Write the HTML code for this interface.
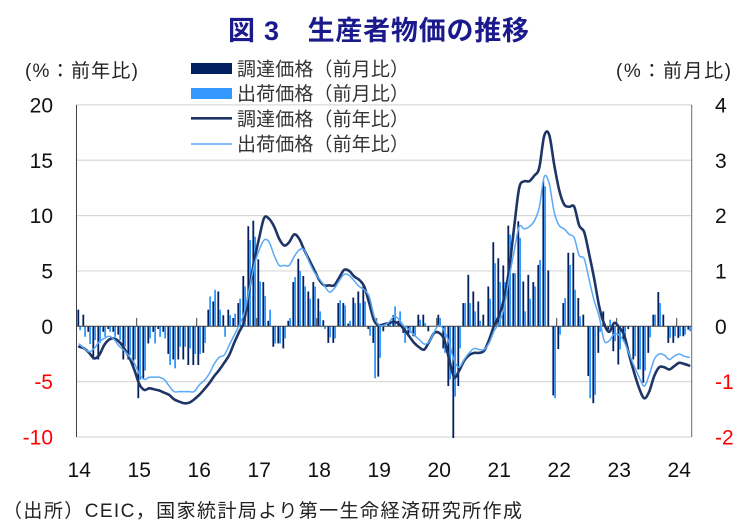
<!DOCTYPE html>
<html><head><meta charset="utf-8"><style>
html,body{margin:0;padding:0;background:#fff;}
svg{display:block;font-family:"Liberation Sans","Noto Sans CJK JP",sans-serif;}
</style></head><body>
<svg id="c" xmlns="http://www.w3.org/2000/svg" width="756" height="528" viewBox="0 0 756 528">
<rect width="756" height="528" fill="#fff"/>
<g stroke="#d9d9d9" stroke-width="1.2">
<line x1="76.5" y1="104.9" x2="691.7" y2="104.9"/>
<line x1="76.5" y1="160.25" x2="691.7" y2="160.25"/>
<line x1="76.5" y1="215.6" x2="691.7" y2="215.6"/>
<line x1="76.5" y1="270.95" x2="691.7" y2="270.95"/>
<line x1="76.5" y1="381.65" x2="691.7" y2="381.65"/>
<line x1="76.5" y1="437" x2="691.7" y2="437"/>
</g>
<g id="bars"></g>
<g id="axes" stroke="#404040" stroke-width="1">
<line x1="76.5" y1="326.3" x2="691.7" y2="326.3"/>
<line x1="76.5" y1="104.9" x2="76.5" y2="437"/>
<line x1="691.7" y1="104.9" x2="691.7" y2="437" stroke="#6a6a6a"/>
</g>
<g id="ticks" stroke="#404040" stroke-width="1"></g>
<path id="pd" fill="none" stroke="#1f3566" stroke-width="2.6" stroke-linejoin="round" stroke-linecap="round"/>
<path id="pl" fill="none" stroke="#5aa9f7" stroke-width="1.5" stroke-linejoin="round" stroke-linecap="round"/>

<text x="228" y="40" font-size="27" font-weight="bold" fill="#1a1a8c" textLength="301" lengthAdjust="spacing">図 3　生産者物価の推移</text>

<text x="25" y="77" font-size="19" fill="#222" textLength="113" lengthAdjust="spacing">(%：前年比)</text>
<text x="616" y="77" font-size="19" fill="#222" textLength="115" lengthAdjust="spacing">(%：前月比)</text>

<rect x="191" y="63" width="41" height="11" fill="#002060"/>
<rect x="191" y="88" width="41" height="11" fill="#3399ff"/>
<line x1="191" y1="118.3" x2="232" y2="118.3" stroke="#1f3566" stroke-width="2.6"/>
<line x1="191" y1="144" x2="232" y2="144" stroke="#5aa9f7" stroke-width="1.5"/>
<g font-size="19" fill="#333">
<text x="237" y="75.5" textLength="172" lengthAdjust="spacing">調達価格（前月比）</text>
<text x="237" y="100" textLength="172" lengthAdjust="spacing">出荷価格（前月比）</text>
<text x="237" y="125.5" textLength="172" lengthAdjust="spacing">調達価格（前年比）</text>
<text x="237" y="150.5" textLength="172" lengthAdjust="spacing">出荷価格（前年比）</text>
</g>

<g font-size="21" text-anchor="end">
<text x="53" y="112.4" fill="#111">20</text>
<text x="53" y="167.75" fill="#111">15</text>
<text x="53" y="223.1" fill="#111">10</text>
<text x="53" y="278.45" fill="#111">5</text>
<text x="53" y="333.8" fill="#111">0</text>
<text x="53" y="389.15" fill="#ff0000">-5</text>
<text x="53" y="444.5" fill="#ff0000">-10</text>
</g>
<g font-size="21">
<text x="715" y="112.4" fill="#111">4</text>
<text x="715" y="167.75" fill="#111">3</text>
<text x="715" y="223.1" fill="#111">2</text>
<text x="715" y="278.45" fill="#111">1</text>
<text x="715" y="333.8" fill="#111">0</text>
<text x="715" y="389.15" fill="#ff0000">-1</text>
<text x="715" y="444.5" fill="#ff0000">-2</text>
</g>
<g font-size="21" text-anchor="middle" fill="#111">
<text x="79.2" y="477">14</text>
<text x="139.2" y="477">15</text>
<text x="199.2" y="477">16</text>
<text x="259.2" y="477">17</text>
<text x="319.2" y="477">18</text>
<text x="379.2" y="477">19</text>
<text x="439.2" y="477">20</text>
<text x="499.2" y="477">21</text>
<text x="559.2" y="477">22</text>
<text x="619.2" y="477">23</text>
<text x="679.2" y="477">24</text>
</g>
<text x="3" y="517" font-size="19" fill="#222" textLength="519" lengthAdjust="spacing">（出所）CEIC，国家統計局より第一生命経済研究所作成</text>
</svg>
<script>
(function(){
var L=[-1.6,-2.0,-2.3,-2.0,-1.4,-1.1,-0.9,-1.2,-1.8,-2.2,-2.7,-3.3,
-4.3,-4.8,-4.6,-4.6,-4.6,-4.8,-5.4,-5.9,-5.9,-5.9,-5.9,-5.9,
-5.3,-4.9,-4.3,-3.4,-2.8,-2.6,-1.7,-0.8,0.1,1.2,3.3,5.5,
6.9,7.8,7.6,6.4,5.5,5.5,5.5,6.3,6.9,6.9,5.8,4.9,
4.3,3.7,3.1,3.4,4.1,4.7,4.6,4.1,3.6,3.3,2.7,0.9,
0.1,0.1,0.4,0.9,0.6,0.0,-0.3,-0.8,-1.2,-1.6,-1.4,-0.5,
0.1,-0.4,-1.5,-3.1,-3.7,-3.0,-2.4,-2.0,-2.1,-2.1,-1.5,-0.4,
0.3,1.7,4.4,6.8,9.0,8.8,9.0,9.5,10.7,13.5,12.9,10.3,
9.1,8.8,8.3,8.0,6.4,6.1,4.2,2.3,0.9,-1.3,-1.3,-0.7,
-0.8,-1.4,-2.5,-3.6,-4.6,-5.4,-4.4,-3.0,-2.5,-2.6,-3.0,-2.7,
-2.5,-2.7,-2.8];
var D=[-1.84,-2.0,-2.4,-2.9,-2.6,-1.7,-1.2,-1.1,-1.4,-2.0,-2.8,-3.9,
-5.2,-5.75,-5.6,-5.7,-5.8,-6.0,-6.2,-6.6,-6.8,-6.95,-6.9,-6.6,
-6.2,-5.7,-5.15,-4.5,-3.95,-3.3,-2.6,-1.5,-0.5,0.5,3.3,5.9,
8.0,9.8,9.7,9.0,7.9,7.3,7.6,8.3,7.9,6.9,6.0,5.1,
4.2,3.7,3.7,3.7,4.4,5.1,5.0,4.5,4.2,3.6,2.1,0.5,
0.1,0.2,0.3,0.4,0.2,-0.3,-0.9,-1.5,-1.9,-2.1,-1.4,-0.6,
-0.6,-1.2,-3.0,-4.6,-4.0,-3.1,-2.6,-2.4,-2.4,-2.2,-1.2,0.1,
1.0,2.6,5.2,9.0,12.5,13.1,13.1,13.6,14.3,17.2,17.3,14.6,
12.3,11.0,10.8,10.8,9.1,8.5,6.5,4.3,1.8,0.2,-0.5,0.3,
-0.1,-0.8,-2.6,-4.2,-5.6,-6.5,-5.9,-4.5,-3.7,-3.7,-3.9,-3.6,
-3.3,-3.4,-3.55];
var Dm=[0.30,0.21,-0.1,-0.6,-0.6,-0.1,-0.05,-0.1,-0.15,-0.6,-0.6,-0.75,
-1.3,-0.95,-0.31,-0.1,-0.05,-0.1,-0.5,-0.6,-0.6,-0.6,-0.7,-0.7,
-0.7,-0.48,0.3,0.45,0.63,0.2,0.3,0.15,0.42,0.91,1.81,1.91,
1.21,0.8,0.1,-0.37,-0.31,-0.4,0.1,0.8,1.22,0.91,0.63,0.8,
0.5,0.11,-0.3,-0.3,0.42,0.42,0.05,0.52,0.63,0.72,-0.05,-0.3,
-0.91,-0.09,0.05,0.2,0.1,-0.12,-0.18,-0.18,0.21,0.21,-0.09,0.0,
0.21,-0.4,-1.08,-2.02,-1.08,0.42,0.93,0.63,0.45,0.21,0.72,1.52,
1.23,1.1,1.82,0.96,1.9,0.81,0.93,0.8,1.11,2.62,1.01,-1.25,
-0.41,0.42,1.33,1.33,0.51,0.21,-0.9,-1.39,-0.48,0.27,-0.06,-0.45,
-0.69,-0.24,-0.05,-0.6,-0.78,-1.02,-0.48,0.21,0.62,0.21,-0.3,-0.3,
-0.21,-0.18,-0.06];
var Lm=[-0.07,-0.19,-0.32,-0.25,-0.3,-0.19,-0.1,-0.19,-0.25,-0.37,-0.52,-0.6,
-0.97,-0.8,-0.22,-0.31,-0.19,-0.22,-0.7,-0.76,-0.37,-0.37,-0.4,-0.5,
-0.5,-0.3,0.54,0.66,0.3,-0.19,0.2,0.23,0.5,0.72,1.56,1.62,
0.81,0.55,0.3,-0.31,-0.31,-0.22,0.15,0.89,1.0,0.72,0.5,0.72,
0.27,-0.05,-0.2,-0.22,0.47,0.38,0.1,0.42,0.42,0.45,-0.17,-0.94,
-0.57,0.0,0.1,0.36,0.27,-0.3,-0.12,-0.18,0.12,0.06,0.0,0.0,
0.15,-0.48,-0.96,-1.27,-0.4,0.42,0.42,0.27,0.1,0.0,0.5,1.14,
0.8,0.8,1.66,0.96,1.6,0.27,0.5,0.72,1.2,2.53,0.0,-1.3,
-0.15,0.51,1.11,0.66,0.18,0.0,-1.3,-1.24,-0.1,0.05,0.12,-0.27,
-0.42,-0.18,0.0,-0.54,-0.78,-0.8,-0.2,0.21,0.42,0.0,-0.21,-0.18,
-0.18,-0.15,-0.09];
function X(i){return 79.2+5*i;}
function YL(v){return 326.3-11.07*v;}
function YR(v){return 326.3-55.3*v;}
var s='';
function bar(x,v,c){
  if(Math.abs(v)<0.005)return;
  var y=YR(v),y0=326.3,top=Math.min(y,y0),h=Math.abs(y-y0);
  s+='<rect x="'+x.toFixed(2)+'" y="'+top.toFixed(2)+'" width="1.8" height="'+h.toFixed(2)+'" fill="'+c+'"/>';
}
for(var i=0;i<Dm.length;i++){bar(X(i)-1.8,Dm[i],'#002060');}
for(var i=0;i<Lm.length;i++){bar(X(i),Lm[i],'#3399ff');}
document.getElementById('bars').innerHTML=s;
var t='';
for(var k=1;k<=10;k++){var x=76.7+60*k;t+='<line x1="'+x+'" y1="318" x2="'+x+'" y2="326.3"/>';}
document.getElementById('ticks').innerHTML=t;
function path(arr){
  var p=arr.map(function(v,i){return [X(i),YL(v)];});
  var d='M'+p[0][0].toFixed(2)+','+p[0][1].toFixed(2);
  for(var i=0;i<p.length-1;i++){
    var p0=p[i-1]||p[i],p1=p[i],p2=p[i+1],p3=p[i+2]||p[i+1];
    var c1x=p1[0]+(p2[0]-p0[0])/6,c1y=p1[1]+(p2[1]-p0[1])/6;
    var c2x=p2[0]-(p3[0]-p1[0])/6,c2y=p2[1]-(p3[1]-p1[1])/6;
    d+='C'+c1x.toFixed(2)+','+c1y.toFixed(2)+' '+c2x.toFixed(2)+','+c2y.toFixed(2)+' '+p2[0].toFixed(2)+','+p2[1].toFixed(2);
  }
  return d;
}
document.getElementById('pd').setAttribute('d',path(D));
document.getElementById('pl').setAttribute('d',path(L));
})();
</script>
</body></html>
